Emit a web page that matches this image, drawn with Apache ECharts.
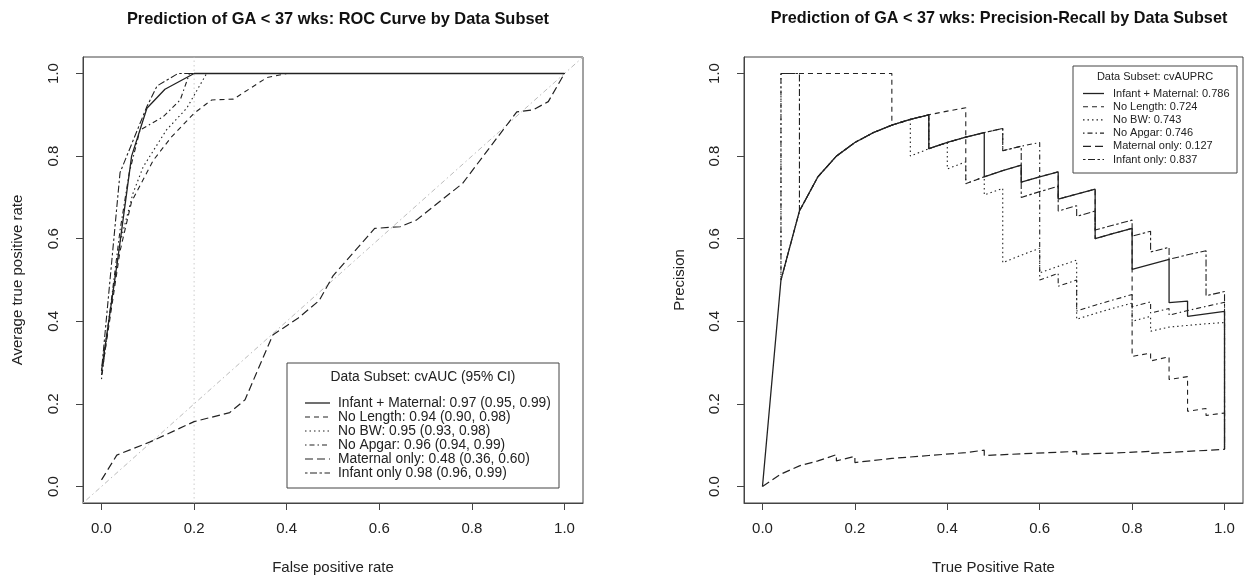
<!DOCTYPE html>
<html>
<head>
<meta charset="utf-8">
<script src="https://cdn.jsdelivr.net/npm/echarts@6/dist/echarts.min.js"></script>
<style>
  html, body { margin: 0; padding: 0; background: #fff; }
  #main { width: 1244px; height: 577px; }
</style>
</head>
<body>
<div id="main"></div>
<script>
// ---- data ----
var tickValues = [0, 0.2, 0.4, 0.6, 0.8, 1.0];
var seriesNames = ['Infant + Maternal', 'No Length', 'No BW', 'No Apgar', 'Maternal only', 'Infant only'];
var rocLegend = [
    'Infant + Maternal: 0.97 (0.95, 0.99)',
    'No Length: 0.94 (0.90, 0.98)',
    'No BW: 0.95 (0.93, 0.98)',
    'No Apgar: 0.96 (0.94, 0.99)',
    'Maternal only: 0.48 (0.36, 0.60)',
    'Infant only 0.98 (0.96, 0.99)'
];
var prLegend = [
    'Infant + Maternal: 0.786',
    'No Length: 0.724',
    'No BW: 0.743',
    'No Apgar: 0.746',
    'Maternal only: 0.127',
    'Infant only: 0.837'
];

// ROC curves: [false positive rate, average true positive rate]
var rocInfantMaternal = [[0, 0.28], [0.035, 0.55], [0.065, 0.80], [0.098, 0.916], [0.137, 0.962], [0.2, 1.0], [1.0, 1.0]];
var rocNoLength = [[0, 0.27], [0.04, 0.57], [0.065, 0.69], [0.112, 0.79], [0.15, 0.845], [0.2, 0.904], [0.238, 0.936], [0.285, 0.938], [0.357, 0.99], [0.4, 1.0], [1.0, 1.0]];
var rocNoBW = [[0, 0.28], [0.04, 0.59], [0.068, 0.71], [0.09, 0.774], [0.14, 0.863], [0.184, 0.916], [0.227, 1.0], [1.0, 1.0]];
var rocNoApgar = [[0, 0.26], [0.04, 0.62], [0.06, 0.76], [0.083, 0.863], [0.133, 0.895], [0.17, 0.936], [0.19, 1.0], [1.0, 1.0]];
var rocMaternal = [[0, 0.016], [0.033, 0.076], [0.105, 0.108], [0.2, 0.157], [0.277, 0.179], [0.31, 0.21], [0.37, 0.367], [0.425, 0.408], [0.47, 0.45], [0.5, 0.51], [0.59, 0.625], [0.645, 0.629], [0.68, 0.645], [0.78, 0.734], [0.84, 0.823], [0.897, 0.907], [0.932, 0.912], [0.965, 0.932], [1.0, 1.0]];
var rocInfant = [[0, 0.28], [0.04, 0.76], [0.098, 0.92], [0.12, 0.97], [0.165, 1.0], [1.0, 1.0]];

// PR curves: [recall, precision]
var prInfantMaternal = [[0, 0], [0.04, 0.5], [0.08, 0.667], [0.12, 0.75], [0.16, 0.8], [0.2, 0.833], [0.24, 0.857], [0.28, 0.875], [0.32, 0.889], [0.36, 0.9], [0.36, 0.818], [0.40, 0.833], [0.44, 0.846], [0.48, 0.857], [0.48, 0.75], [0.52, 0.765], [0.56, 0.778], [0.56, 0.737], [0.60, 0.75], [0.64, 0.762], [0.64, 0.696], [0.68, 0.708], [0.72, 0.72], [0.72, 0.60], [0.76, 0.613], [0.80, 0.625], [0.80, 0.526], [0.84, 0.538], [0.88, 0.55], [0.88, 0.445], [0.92, 0.449], [0.92, 0.412], [0.96, 0.418], [1.0, 0.424], [1.0, 0.09]];
var prNoLength = [[0.04, 1.0], [0.28, 1.0], [0.28, 0.875], [0.32, 0.889], [0.36, 0.9], [0.40, 0.909], [0.44, 0.917], [0.44, 0.733], [0.48, 0.75], [0.52, 0.765], [0.56, 0.778], [0.56, 0.737], [0.60, 0.75], [0.64, 0.762], [0.64, 0.696], [0.68, 0.708], [0.72, 0.72], [0.72, 0.6], [0.76, 0.613], [0.80, 0.625], [0.80, 0.315], [0.84, 0.323], [0.84, 0.304], [0.88, 0.314], [0.88, 0.259], [0.92, 0.266], [0.92, 0.182], [0.96, 0.189], [0.96, 0.172], [1.0, 0.178], [1.0, 0.09]];
var prNoBW = [[0.04, 1.0], [0.04, 0.5], [0.08, 0.667], [0.12, 0.75], [0.16, 0.8], [0.2, 0.833], [0.24, 0.857], [0.28, 0.875], [0.32, 0.889], [0.32, 0.8], [0.36, 0.818], [0.40, 0.833], [0.40, 0.769], [0.44, 0.786], [0.44, 0.733], [0.48, 0.75], [0.48, 0.706], [0.52, 0.722], [0.52, 0.542], [0.56, 0.56], [0.60, 0.577], [0.60, 0.517], [0.64, 0.533], [0.68, 0.548], [0.68, 0.405], [0.72, 0.419], [0.76, 0.432], [0.80, 0.444], [0.80, 0.4], [0.84, 0.412], [0.84, 0.376], [0.88, 0.386], [0.92, 0.39], [0.96, 0.394], [1.0, 0.397], [1.0, 0.09]];
var prNoApgar = [[0.04, 1.0], [0.04, 0.5], [0.08, 0.667], [0.12, 0.75], [0.16, 0.8], [0.2, 0.833], [0.24, 0.857], [0.28, 0.875], [0.32, 0.889], [0.36, 0.9], [0.36, 0.818], [0.40, 0.833], [0.44, 0.846], [0.48, 0.857], [0.52, 0.867], [0.52, 0.813], [0.56, 0.824], [0.60, 0.833], [0.60, 0.5], [0.64, 0.516], [0.64, 0.485], [0.68, 0.5], [0.68, 0.425], [0.72, 0.439], [0.76, 0.452], [0.80, 0.465], [0.80, 0.435], [0.84, 0.447], [0.84, 0.42], [0.88, 0.431], [0.88, 0.415], [0.92, 0.426], [0.96, 0.436], [1.0, 0.446], [1.0, 0.09]];
var prMaternal = [[0, 0], [0.04, 0.03], [0.08, 0.05], [0.12, 0.062], [0.16, 0.077], [0.16, 0.062], [0.2, 0.073], [0.2, 0.058], [0.28, 0.068], [0.36, 0.075], [0.44, 0.082], [0.48, 0.088], [0.48, 0.075], [0.56, 0.079], [0.64, 0.083], [0.68, 0.085], [0.68, 0.078], [0.76, 0.081], [0.84, 0.085], [0.84, 0.08], [0.92, 0.085], [1.0, 0.09]];
var prInfant = [[0.04, 1.0], [0.08, 1.0], [0.08, 0.667], [0.12, 0.75], [0.16, 0.8], [0.2, 0.833], [0.24, 0.857], [0.28, 0.875], [0.32, 0.889], [0.36, 0.9], [0.36, 0.818], [0.40, 0.833], [0.44, 0.846], [0.48, 0.857], [0.52, 0.867], [0.52, 0.813], [0.56, 0.824], [0.56, 0.7], [0.60, 0.714], [0.64, 0.727], [0.64, 0.667], [0.68, 0.68], [0.68, 0.654], [0.72, 0.667], [0.72, 0.621], [0.76, 0.633], [0.80, 0.645], [0.80, 0.606], [0.84, 0.618], [0.84, 0.568], [0.88, 0.579], [0.88, 0.55], [0.92, 0.561], [0.96, 0.571], [0.96, 0.462], [1.0, 0.472], [1.0, 0.09]];

var diagRef = [[-0.04, -0.04], [1.04, 1.04]];
var cutRef = [[0.2, -0.04], [0.2, 1.04]];

// ---- styles ----
var ink = '#222';
var dashTypes = [
    'solid',
    [5, 4],
    [1.5, 3],
    [1.5, 3, 5, 3],
    [8, 4],
    [2.5, 2.5, 7, 2.5]
];
var lineWidths = [1.3, 1.1, 1.1, 1.1, 1.2, 1.1];
var FONT = '"Liberation Sans", Arial, sans-serif';

var chart = echarts.init(document.getElementById('main'), null, { renderer: 'canvas' });

function makeAxis(gridIndex, isY, name, nameGap) {
    return {
        type: 'value',
        gridIndex: gridIndex,
        min: -0.04,
        max: 1.04,
        interval: 0.2,
        name: name,
        nameLocation: 'middle',
        nameGap: nameGap,
        nameTextStyle: { fontFamily: FONT, fontSize: 15, color: '#222' },
        axisLine: { show: true, onZero: false, lineStyle: { color: '#444', width: 1 } },
        axisTick: {
            show: true, length: 7, lineStyle: { color: '#444' },
            customValues: tickValues
        },
        axisLabel: {
            fontFamily: FONT, fontSize: 15, color: '#222',
            margin: isY ? 22 : 18,
            rotate: isY ? 90 : 0,
            customValues: tickValues,
            formatter: function (v) { return v.toFixed(1); }
        },
        splitLine: { show: false }
    };
}

var series = [];
function addCurves(gridIndex, curves) {
    curves.forEach(function (c, i) {
        series.push({
            name: seriesNames[i],
            type: 'line',
            xAxisIndex: gridIndex,
            yAxisIndex: gridIndex,
            data: c,
            showSymbol: false,
            silent: true,
            z: 3 + (i === 0 ? 1 : 0),
            lineStyle: { color: ink, width: lineWidths[i], type: dashTypes[i] }
        });
    });
}
series.push({
    type: 'line', xAxisIndex: 0, yAxisIndex: 0, data: diagRef, showSymbol: false, silent: true, z: 1,
    lineStyle: { color: '#bbb', width: 1, type: [1.5, 3, 5, 3] }
});
series.push({
    type: 'line', xAxisIndex: 0, yAxisIndex: 0, data: cutRef, showSymbol: false, silent: true, z: 1,
    lineStyle: { color: '#ccc', width: 1, type: [1.5, 3] }
});
addCurves(0, [rocInfantMaternal, rocNoLength, rocNoBW, rocNoApgar, rocMaternal, rocInfant]);
addCurves(1, [prInfantMaternal, prNoLength, prNoBW, prNoApgar, prMaternal, prInfant]);

// legend boxes drawn as graphic (R-style legend with a title row)
function legendGraphic(box, title, titleY, labels, fs, rowStart, rowGap, lineX0, lineX1, textX) {
    var els = [{
        type: 'rect',
        shape: { x: box[0], y: box[1], width: box[2], height: box[3] },
        style: { fill: '#fff', stroke: '#444', lineWidth: 1 },
        z: 20
    }, {
        type: 'text',
        x: box[0] + box[2] / 2, y: titleY,
        style: { text: title, font: fs + 'px ' + FONT, fill: '#222', align: 'center', verticalAlign: 'middle' },
        z: 21
    }];
    labels.forEach(function (lab, i) {
        var yy = rowStart + i * rowGap;
        els.push({
            type: 'line',
            shape: { x1: lineX0, y1: yy, x2: lineX1, y2: yy },
            style: { stroke: ink, lineWidth: lineWidths[i], lineDash: dashTypes[i] === 'solid' ? null : dashTypes[i] },
            z: 21
        });
        els.push({
            type: 'text',
            x: textX, y: yy,
            style: { text: lab, font: fs + 'px ' + FONT, fill: '#222', align: 'left', verticalAlign: 'middle' },
            z: 21
        });
    });
    return els;
}

var graphics = []
    .concat(legendGraphic([287, 363, 272, 125], 'Data Subset: cvAUC (95% CI)', 377, rocLegend, 13.8, 403, 14, 305, 330, 338))
    .concat(legendGraphic([1073, 66, 164, 107], 'Data Subset: cvAUPRC', 77, prLegend, 11, 93.5, 13.2, 1083, 1104, 1113));

var option = {
    animation: false,
    backgroundColor: '#fff',
    title: [{
        text: 'Prediction of GA < 37 wks: ROC Curve by Data Subset',
        left: 333, top: 6, textAlign: 'center',
        textStyle: { fontFamily: FONT, fontSize: 16.4, fontWeight: 'bold', color: '#111' }
    }, {
        text: 'Prediction of GA < 37 wks: Precision-Recall by Data Subset',
        left: 994, top: 6, textAlign: 'center',
        textStyle: { fontFamily: FONT, fontSize: 16.2, fontWeight: 'bold', color: '#111' }
    }],
    grid: [
        { left: 83, top: 57, width: 500, height: 446, containLabel: false, outerBoundsMode: 'none', show: true, borderColor: '#444', borderWidth: 1, backgroundColor: 'transparent' },
        { left: 744, top: 57, width: 499, height: 446, containLabel: false, outerBoundsMode: 'none', show: true, borderColor: '#444', borderWidth: 1, backgroundColor: 'transparent' }
    ],
    xAxis: [
        makeAxis(0, false, 'False positive rate', 57),
        makeAxis(1, false, 'True Positive Rate', 57)
    ],
    yAxis: [
        makeAxis(0, true, 'Average true positive rate', 58),
        makeAxis(1, true, 'Precision', 57)
    ],
    series: series,
    graphic: graphics
};
chart.setOption(option);

window.addEventListener('resize', function () {
    chart.resize();
});
</script>
</body>
</html>
